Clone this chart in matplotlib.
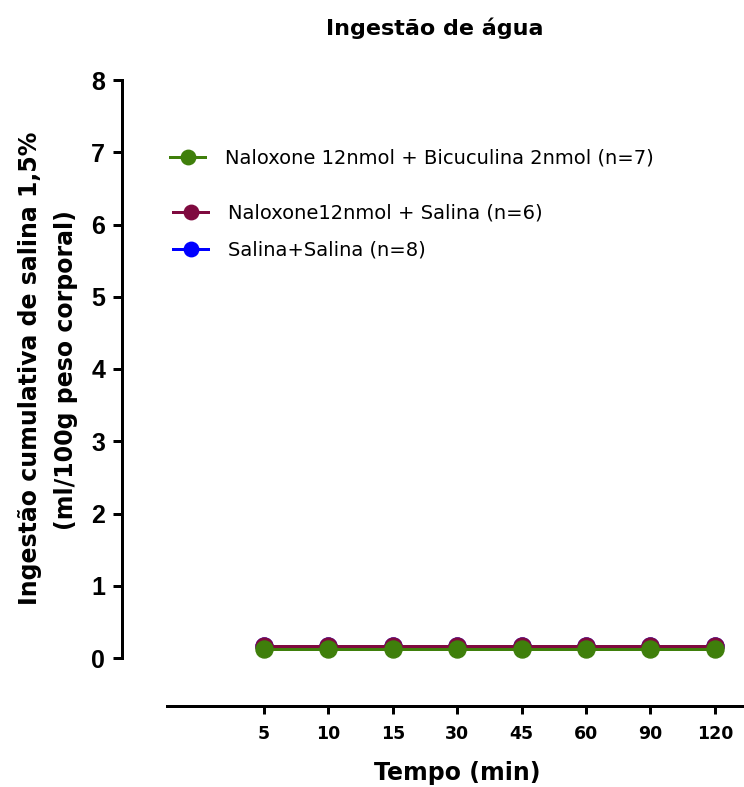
import matplotlib.pyplot as plt
import numpy as np

plt.rcParams['font.family'] = ['DejaVu Sans']

tempos = ['5', '10', '15', '30', '45', '60', '90', '120']
salina_salina = [0.17, 0.17, 0.17, 0.17, 0.17, 0.17, 0.17, 0.17]
nalox_salina = [0.16, 0.16, 0.16, 0.16, 0.16, 0.16, 0.16, 0.16]
nalox_bicuc = [0.13, 0.13, 0.13, 0.13, 0.13, 0.13, 0.13, 0.13]

labels = ['Naloxone 12nmol + Bicuculina 2nmol (n=7)',
          'Naloxone12nmol + Salina (n=6)',
          'Salina+Salina (n=8)']
colors = ['#3f7f0b', '#7f0a3f', '#0000ff']

W, H = 744, 787
px = 72 / 100  # pixels -> points at dpi 100
fig = plt.figure(figsize=(W / 100, H / 100), dpi=100)
ax = fig.add_axes([167 / W, 1 - 658 / H, (744 - 167) / W, (658 - 80) / H])

# spine positions first: set_position resets the tick labels
for s in ['top', 'right']:
    ax.spines[s].set_visible(False)
ax.spines['left'].set_position(('outward', 45 * px))
ax.spines['bottom'].set_position(('outward', 48 * px))
for s in ['left', 'bottom']:
    ax.spines[s].set_linewidth(3 * px)

x = np.arange(len(tempos))
kw = dict(marker='o', markersize=17 * px, linewidth=3 * px, clip_on=False)
l3, = ax.plot(x, salina_salina, color=colors[2], **kw)
l2, = ax.plot(x, nalox_salina, color=colors[1], **kw)
l1, = ax.plot(x, nalox_bicuc, color=colors[0], **kw)

ax.set_xlim(-1.506, 7.453)
ax.set_ylim(0, 8)
ax.spines['left'].set_bounds(0, 8)
ax.set_xticks(x)
ax.set_xticklabels(tempos, fontsize=12.5, fontweight='bold')
ax.set_yticks(range(0, 9))
ax.set_yticklabels([str(v) for v in range(0, 9)], fontsize=18, fontweight='bold',
                   family='Liberation Sans')
ax.tick_params(axis='both', direction='out', width=3 * px)
ax.tick_params(axis='y', length=9 * px, pad=8 * px)
ax.tick_params(axis='x', length=8 * px, pad=11 * px)

fig.text(435 / W, 1 - 28 / H, 'Ingestão de água', ha='center', va='center',
         fontsize=16, fontweight='bold')
fig.text(30 / W, 1 - 368 / H, 'Ingestão cumulativa de salina 1,5%', rotation=90,
         ha='center', va='center', fontsize=17, fontweight='bold')
fig.text(66 / W, 1 - 370 / H, '(ml/100g peso corporal)', rotation=90,
         ha='center', va='center', fontsize=17, fontweight='bold')
fig.text(457 / W, 1 - 773 / H, 'Tempo (min)', ha='center', va='center',
         fontsize=17, fontweight='bold')

# legend rows are not evenly spaced in the original, so one legend per row
rows = [(l1, labels[0], 158, 170), (l2, labels[1], 213, 173), (l3, labels[2], 250, 173)]
for line, lab, ypx, xpx in rows:
    fig.legend([line], [lab], loc='center left',
               bbox_to_anchor=(xpx / W, 1 - ypx / H), frameon=False,
               fontsize=14, handlelength=1.8, handletextpad=1.05,
               borderpad=0, borderaxespad=0, markerscale=0.85)

fig.savefig('out.png', dpi=100)
